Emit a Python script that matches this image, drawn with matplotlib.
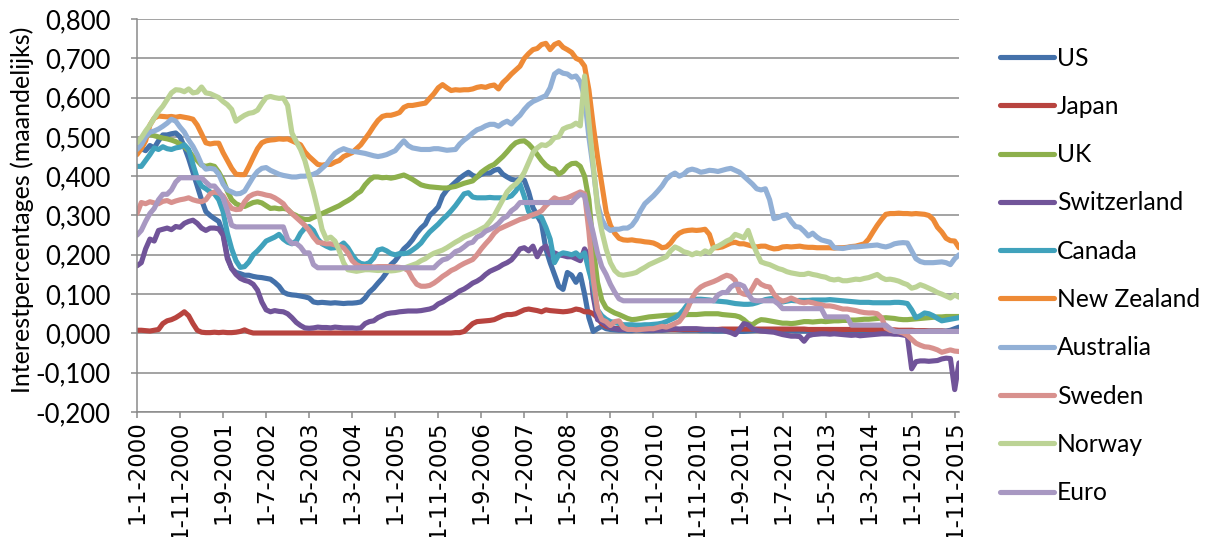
import matplotlib
matplotlib.use("Agg")
import matplotlib.pyplot as plt
from matplotlib.ticker import MultipleLocator, FuncFormatter
from matplotlib.lines import Line2D

# Monthly interest rates (annual rate / 12), January 2000 - December 2015
us = [
    0.475, 0.470, 0.465, 0.478, 0.472, 0.490, 0.505, 0.505, 0.508, 0.510,
    0.500, 0.475, 0.445, 0.410, 0.375, 0.340, 0.310, 0.300, 0.292, 0.285,
    0.255, 0.195, 0.165, 0.155, 0.152, 0.148, 0.148, 0.145, 0.143, 0.142,
    0.140, 0.138, 0.130, 0.120, 0.105, 0.100, 0.098, 0.097, 0.095, 0.093,
    0.090, 0.080, 0.078, 0.079, 0.078, 0.077, 0.078, 0.077, 0.076, 0.077,
    0.077, 0.078, 0.080, 0.090, 0.105, 0.115, 0.128, 0.140, 0.155, 0.175,
    0.185, 0.200, 0.215, 0.225, 0.238, 0.255, 0.268, 0.278, 0.300, 0.310,
    0.322, 0.350, 0.365, 0.375, 0.385, 0.395, 0.403, 0.410, 0.402, 0.398,
    0.405, 0.408, 0.408, 0.415, 0.418, 0.405, 0.398, 0.392, 0.390, 0.392,
    0.390, 0.360, 0.320, 0.300, 0.280, 0.215, 0.180, 0.150, 0.120, 0.112,
    0.155, 0.148, 0.130, 0.150, 0.100, 0.040, 0.005, 0.012, 0.018, 0.012,
    0.010, 0.009, 0.008, 0.008, 0.007, 0.007, 0.008, 0.008, 0.007, 0.007,
    0.007, 0.008, 0.008, 0.009, 0.010, 0.010, 0.009, 0.008, 0.008, 0.008,
    0.008, 0.007, 0.007, 0.007, 0.006, 0.006, 0.006, 0.006, 0.006, 0.005,
    0.005, 0.005, 0.006, 0.007, 0.008, 0.008, 0.008, 0.008, 0.008, 0.007,
    0.007, 0.007, 0.007, 0.006, 0.006, 0.006, 0.006, 0.006, 0.006, 0.006,
    0.006, 0.005, 0.005, 0.005, 0.005, 0.005, 0.005, 0.005, 0.005, 0.005,
    0.005, 0.005, 0.005, 0.005, 0.005, 0.005, 0.005, 0.005, 0.005, 0.005,
    0.005, 0.005, 0.006, 0.006, 0.006, 0.006, 0.006, 0.006, 0.006, 0.008,
    0.012, 0.016,
]

japan = [
    0.008, 0.008, 0.007, 0.006, 0.008, 0.010, 0.025, 0.032, 0.035, 0.040,
    0.047, 0.055, 0.045, 0.025, 0.008, 0.003, 0.002, 0.002, 0.003, 0.002,
    0.003, 0.002, 0.002, 0.003, 0.005, 0.009, 0.004, 0.001, 0.001, 0.001,
    0.001, 0.001, 0.001, 0.001, 0.001, 0.001, 0.001, 0.001, 0.001, 0.001,
    0.001, 0.001, 0.001, 0.001, 0.001, 0.001, 0.001, 0.001, 0.001, 0.001,
    0.001, 0.001, 0.001, 0.001, 0.001, 0.001, 0.001, 0.001, 0.001, 0.001,
    0.001, 0.001, 0.001, 0.001, 0.001, 0.001, 0.001, 0.001, 0.001, 0.001,
    0.001, 0.001, 0.001, 0.001, 0.002, 0.002, 0.005, 0.015, 0.025, 0.030,
    0.031, 0.032, 0.033, 0.035, 0.040, 0.045, 0.048, 0.048, 0.050, 0.055,
    0.060, 0.062, 0.060, 0.058, 0.055, 0.060, 0.058, 0.057, 0.056, 0.055,
    0.056, 0.058, 0.062, 0.060, 0.055, 0.055, 0.050, 0.040, 0.025, 0.018,
    0.015, 0.013, 0.012, 0.012, 0.011, 0.011, 0.011, 0.011, 0.010, 0.010,
    0.010, 0.010, 0.010, 0.010, 0.010, 0.010, 0.010, 0.010, 0.010, 0.010,
    0.010, 0.010, 0.010, 0.010, 0.010, 0.010, 0.011, 0.011, 0.011, 0.011,
    0.011, 0.011, 0.011, 0.011, 0.011, 0.011, 0.011, 0.011, 0.011, 0.011,
    0.011, 0.011, 0.011, 0.011, 0.011, 0.011, 0.010, 0.010, 0.010, 0.010,
    0.010, 0.010, 0.010, 0.010, 0.010, 0.010, 0.010, 0.010, 0.010, 0.010,
    0.010, 0.010, 0.010, 0.010, 0.009, 0.009, 0.009, 0.008, 0.008, 0.008,
    0.008, 0.007, 0.007, 0.007, 0.006, 0.006, 0.006, 0.006, 0.005, 0.005,
    0.005, 0.005,
]

uk = [
    0.490, 0.495, 0.500, 0.507, 0.503, 0.500, 0.497, 0.495, 0.492, 0.488,
    0.482, 0.475, 0.465, 0.450, 0.440, 0.428, 0.425, 0.428, 0.425, 0.410,
    0.390, 0.362, 0.340, 0.330, 0.325, 0.323, 0.328, 0.333, 0.335, 0.332,
    0.325, 0.318, 0.319, 0.317, 0.318, 0.316, 0.305, 0.300, 0.293, 0.290,
    0.290, 0.295, 0.300, 0.305, 0.310, 0.315, 0.320, 0.325, 0.332, 0.338,
    0.345, 0.355, 0.362, 0.378, 0.390, 0.398, 0.398, 0.396, 0.397, 0.395,
    0.397, 0.400, 0.403, 0.398, 0.392, 0.385, 0.378, 0.375, 0.373, 0.372,
    0.371, 0.370, 0.370, 0.372, 0.374, 0.378, 0.382, 0.385, 0.388, 0.398,
    0.410, 0.418, 0.425, 0.430, 0.440, 0.450, 0.462, 0.475, 0.485, 0.489,
    0.490, 0.482, 0.470, 0.455, 0.440, 0.428, 0.420, 0.418, 0.405, 0.412,
    0.425, 0.432, 0.433, 0.425, 0.400, 0.340, 0.220, 0.130, 0.085, 0.065,
    0.058, 0.052, 0.048, 0.043, 0.038, 0.035, 0.036, 0.038, 0.040, 0.042,
    0.043, 0.044, 0.045, 0.046, 0.046, 0.047, 0.047, 0.047, 0.048, 0.048,
    0.048, 0.049, 0.050, 0.050, 0.050, 0.050, 0.048, 0.047, 0.046, 0.045,
    0.042, 0.035, 0.025, 0.022, 0.030, 0.035, 0.034, 0.032, 0.030, 0.028,
    0.026, 0.026, 0.025, 0.026, 0.028, 0.030, 0.030, 0.029, 0.030, 0.031,
    0.030, 0.031, 0.032, 0.032, 0.033, 0.033, 0.034, 0.034, 0.035, 0.036,
    0.036, 0.037, 0.038, 0.039, 0.040, 0.039, 0.038, 0.036, 0.035, 0.035,
    0.036, 0.037, 0.038, 0.039, 0.040, 0.041, 0.042, 0.042, 0.043, 0.043,
    0.043, 0.043,
]

switzerland = [
    0.172, 0.180, 0.215, 0.240, 0.235, 0.262, 0.265, 0.268, 0.264, 0.272,
    0.270, 0.280, 0.285, 0.288, 0.280, 0.268, 0.262, 0.268, 0.268, 0.266,
    0.250, 0.190, 0.165, 0.150, 0.140, 0.135, 0.132, 0.125, 0.110, 0.080,
    0.060, 0.055, 0.058, 0.056, 0.055, 0.050, 0.040, 0.028, 0.020, 0.014,
    0.013, 0.014, 0.016, 0.015, 0.015, 0.014, 0.016, 0.015, 0.014, 0.014,
    0.014, 0.013, 0.014, 0.025, 0.030, 0.032, 0.040, 0.045, 0.050, 0.052,
    0.053, 0.055, 0.056, 0.057, 0.057, 0.057, 0.058, 0.060, 0.062, 0.066,
    0.075, 0.080, 0.087, 0.093, 0.100, 0.108, 0.113, 0.120, 0.128, 0.133,
    0.140, 0.150, 0.158, 0.163, 0.168, 0.175, 0.180, 0.187, 0.200, 0.215,
    0.218, 0.210, 0.222, 0.195, 0.215, 0.222, 0.200, 0.205, 0.200, 0.198,
    0.195, 0.195, 0.190, 0.185, 0.215, 0.195, 0.095, 0.035, 0.030, 0.022,
    0.015, 0.012, 0.010, 0.010, 0.010, 0.010, 0.010, 0.010, 0.009, 0.009,
    0.009, 0.009, 0.009, 0.010, 0.011, 0.012, 0.011, 0.012, 0.012, 0.012,
    0.012, 0.011, 0.010, 0.010, 0.010, 0.009, 0.009, 0.005, 0.002, -0.003,
    0.010, 0.025, 0.022, 0.012, 0.008, 0.006, 0.005, 0.004, 0.003, 0.000,
    -0.003, -0.005, -0.007, -0.007, -0.008, -0.020, -0.006, -0.003, -0.002, -0.001,
    -0.001, -0.002, -0.001, -0.002, -0.003, -0.004, -0.005, -0.004, -0.006, -0.005,
    -0.004, -0.003, -0.002, -0.001, -0.001, -0.001, -0.002, -0.002, -0.004, -0.006,
    -0.090, -0.072, -0.070, -0.070, -0.071, -0.070, -0.069, -0.065, -0.063, -0.064,
    -0.143, -0.075,
]

canada = [
    0.425, 0.425, 0.440, 0.455, 0.472, 0.468, 0.475, 0.470, 0.468, 0.472,
    0.474, 0.480, 0.468, 0.430, 0.395, 0.375, 0.368, 0.360, 0.355, 0.340,
    0.310, 0.255, 0.215, 0.185, 0.168, 0.170, 0.182, 0.200, 0.210, 0.222,
    0.235, 0.240, 0.245, 0.252, 0.240, 0.232, 0.228, 0.235, 0.255, 0.268,
    0.272, 0.262, 0.240, 0.228, 0.222, 0.217, 0.218, 0.222, 0.230, 0.218,
    0.200, 0.185, 0.178, 0.176, 0.180, 0.192, 0.212, 0.215, 0.210, 0.203,
    0.200, 0.203, 0.203, 0.205, 0.212, 0.220, 0.230, 0.245, 0.258, 0.268,
    0.278, 0.290, 0.300, 0.312, 0.325, 0.340, 0.355, 0.358, 0.347, 0.345,
    0.345, 0.345, 0.346, 0.345, 0.345, 0.345, 0.346, 0.350, 0.362, 0.380,
    0.348, 0.310, 0.298, 0.300, 0.295, 0.270, 0.240, 0.180, 0.200, 0.205,
    0.203, 0.200, 0.205, 0.195, 0.205, 0.160, 0.120, 0.060, 0.045, 0.036,
    0.030, 0.028, 0.025, 0.022, 0.022, 0.022, 0.021, 0.021, 0.022, 0.022,
    0.023, 0.024, 0.026, 0.030, 0.035, 0.040, 0.048, 0.060, 0.075, 0.084,
    0.087, 0.087, 0.086, 0.085, 0.083, 0.082, 0.081, 0.080, 0.078, 0.076,
    0.075, 0.074, 0.074, 0.075, 0.078, 0.082, 0.086, 0.088, 0.089, 0.085,
    0.080, 0.082, 0.084, 0.083, 0.084, 0.084, 0.084, 0.085, 0.085, 0.085,
    0.085, 0.086, 0.085, 0.084, 0.083, 0.082, 0.081, 0.080, 0.079, 0.079,
    0.079, 0.078, 0.078, 0.078, 0.078, 0.078, 0.079, 0.079, 0.078, 0.076,
    0.060, 0.040, 0.045, 0.052, 0.050, 0.045, 0.038, 0.032, 0.034, 0.036,
    0.038, 0.040,
]

new_zealand = [
    0.455, 0.470, 0.490, 0.530, 0.548, 0.553, 0.552, 0.551, 0.552, 0.550,
    0.552, 0.550, 0.548, 0.545, 0.530, 0.508, 0.485, 0.482, 0.484, 0.484,
    0.460, 0.440, 0.420, 0.405, 0.404, 0.404, 0.425, 0.448, 0.470, 0.485,
    0.490, 0.492, 0.493, 0.495, 0.494, 0.495, 0.490, 0.485, 0.480, 0.462,
    0.450, 0.440, 0.430, 0.428, 0.430, 0.430, 0.436, 0.440, 0.450, 0.455,
    0.460, 0.470, 0.480, 0.495, 0.510, 0.527, 0.542, 0.552, 0.555, 0.555,
    0.558, 0.562, 0.575, 0.580, 0.580, 0.582, 0.584, 0.586, 0.598, 0.610,
    0.625, 0.633, 0.625, 0.618, 0.620, 0.619, 0.620, 0.620, 0.622, 0.626,
    0.628, 0.626, 0.630, 0.632, 0.622, 0.638, 0.648, 0.660, 0.670, 0.680,
    0.700, 0.712, 0.722, 0.725, 0.735, 0.738, 0.722, 0.735, 0.740, 0.728,
    0.722, 0.715, 0.700, 0.695, 0.680, 0.620, 0.530, 0.450, 0.380, 0.310,
    0.275, 0.255, 0.242, 0.238, 0.237, 0.238, 0.236, 0.235, 0.233, 0.232,
    0.230, 0.225, 0.218, 0.220, 0.230, 0.245, 0.255, 0.260, 0.262, 0.263,
    0.262, 0.263, 0.265, 0.252, 0.218, 0.218, 0.220, 0.225, 0.230, 0.232,
    0.228, 0.228, 0.225, 0.222, 0.220, 0.222, 0.222, 0.218, 0.215, 0.216,
    0.220, 0.221, 0.220, 0.221, 0.222, 0.220, 0.219, 0.219, 0.218, 0.218,
    0.218, 0.218, 0.217, 0.218, 0.218, 0.219, 0.221, 0.222, 0.225, 0.228,
    0.240, 0.258, 0.275, 0.290, 0.303, 0.305, 0.305, 0.306, 0.305, 0.305,
    0.304, 0.305, 0.304, 0.303, 0.300, 0.290, 0.270, 0.258, 0.242, 0.236,
    0.235, 0.218,
]

australia = [
    0.468, 0.480, 0.500, 0.512, 0.515, 0.520, 0.527, 0.535, 0.545, 0.540,
    0.525, 0.512, 0.492, 0.476, 0.455, 0.430, 0.418, 0.420, 0.418, 0.405,
    0.380, 0.365, 0.360, 0.355, 0.356, 0.362, 0.380, 0.398, 0.412, 0.420,
    0.422, 0.415, 0.410, 0.405, 0.402, 0.400, 0.398, 0.398, 0.400, 0.400,
    0.402, 0.405, 0.410, 0.420, 0.430, 0.445, 0.458, 0.465, 0.470, 0.466,
    0.463, 0.462, 0.460, 0.458, 0.455, 0.452, 0.450, 0.452, 0.455, 0.460,
    0.465, 0.478, 0.490, 0.478, 0.472, 0.470, 0.468, 0.468, 0.468, 0.470,
    0.470, 0.468, 0.466, 0.467, 0.468, 0.482, 0.492, 0.500, 0.510, 0.518,
    0.522, 0.528, 0.532, 0.532, 0.527, 0.535, 0.540, 0.533, 0.545, 0.555,
    0.570, 0.582, 0.590, 0.595, 0.600, 0.605, 0.625, 0.660, 0.668, 0.662,
    0.660, 0.652, 0.655, 0.640, 0.600, 0.500, 0.420, 0.330, 0.290, 0.270,
    0.262, 0.265, 0.265, 0.268, 0.268, 0.275, 0.290, 0.312, 0.330, 0.340,
    0.350, 0.362, 0.375, 0.392, 0.402, 0.408, 0.400, 0.405, 0.415, 0.418,
    0.415, 0.410, 0.412, 0.415, 0.414, 0.412, 0.415, 0.418, 0.420, 0.415,
    0.410, 0.400, 0.390, 0.380, 0.368, 0.365, 0.368, 0.340, 0.292, 0.295,
    0.300, 0.302, 0.285, 0.272, 0.270, 0.260, 0.248, 0.255, 0.245, 0.238,
    0.235, 0.232, 0.218, 0.217, 0.216, 0.218, 0.220, 0.220, 0.221, 0.222,
    0.223, 0.224, 0.225, 0.222, 0.220, 0.223, 0.228, 0.230, 0.231, 0.230,
    0.210, 0.190, 0.183, 0.180, 0.180, 0.180, 0.181, 0.182, 0.180, 0.175,
    0.190, 0.200,
]

sweden = [
    0.305, 0.333, 0.330, 0.335, 0.332, 0.330, 0.336, 0.338, 0.333, 0.337,
    0.340, 0.342, 0.345, 0.340, 0.337, 0.335, 0.340, 0.355, 0.360, 0.357,
    0.350, 0.332, 0.318, 0.315, 0.316, 0.335, 0.348, 0.354, 0.357, 0.355,
    0.352, 0.350, 0.345, 0.338, 0.330, 0.315, 0.305, 0.295, 0.285, 0.275,
    0.262, 0.245, 0.232, 0.230, 0.228, 0.228, 0.225, 0.222, 0.218, 0.205,
    0.185, 0.175, 0.170, 0.170, 0.170, 0.169, 0.170, 0.170, 0.170, 0.170,
    0.169, 0.168, 0.166, 0.160, 0.140, 0.125, 0.120, 0.120, 0.122, 0.128,
    0.136, 0.145, 0.152, 0.160, 0.165, 0.172, 0.178, 0.183, 0.188, 0.200,
    0.215, 0.228, 0.240, 0.255, 0.265, 0.270, 0.275, 0.280, 0.285, 0.290,
    0.293, 0.298, 0.302, 0.306, 0.312, 0.325, 0.335, 0.345, 0.340, 0.342,
    0.345, 0.350, 0.355, 0.360, 0.355, 0.260, 0.140, 0.060, 0.035, 0.030,
    0.020, 0.030, 0.032, 0.015, 0.010, 0.010, 0.009, 0.010, 0.011, 0.012,
    0.012, 0.015, 0.018, 0.016, 0.020, 0.025, 0.030, 0.045, 0.065, 0.090,
    0.108, 0.118, 0.124, 0.128, 0.132, 0.137, 0.143, 0.148, 0.145, 0.135,
    0.105, 0.100, 0.098, 0.115, 0.135, 0.125, 0.120, 0.118, 0.100, 0.088,
    0.082, 0.085, 0.090, 0.085, 0.080, 0.078, 0.080, 0.078, 0.075, 0.073,
    0.070, 0.070, 0.068, 0.065, 0.062, 0.062, 0.060, 0.058, 0.055, 0.053,
    0.052, 0.052, 0.050, 0.040, 0.014, 0.008, 0.006, 0.004, 0.001, -0.005,
    -0.015, -0.025, -0.030, -0.034, -0.035, -0.038, -0.042, -0.048, -0.045, -0.042,
    -0.045, -0.046,
]

norway = [
    0.485, 0.498, 0.515, 0.530, 0.548, 0.565, 0.578, 0.595, 0.612, 0.620,
    0.619, 0.615, 0.622, 0.612, 0.614, 0.627, 0.612, 0.610, 0.605, 0.600,
    0.590, 0.582, 0.570, 0.540, 0.548, 0.555, 0.560, 0.562, 0.568, 0.585,
    0.600, 0.603, 0.600, 0.598, 0.599, 0.580, 0.510, 0.488, 0.468, 0.440,
    0.400, 0.360, 0.315, 0.265, 0.240, 0.245, 0.235, 0.210, 0.180, 0.162,
    0.160, 0.158, 0.160, 0.162, 0.162, 0.161, 0.160, 0.161, 0.160, 0.159,
    0.160, 0.162, 0.166, 0.170, 0.174, 0.178, 0.185, 0.190, 0.198, 0.204,
    0.208, 0.212, 0.218, 0.225, 0.232, 0.238, 0.245, 0.250, 0.255, 0.260,
    0.266, 0.272, 0.285, 0.300, 0.320, 0.340, 0.360, 0.372, 0.380, 0.392,
    0.410, 0.435, 0.460, 0.472, 0.480, 0.478, 0.485, 0.498, 0.500, 0.520,
    0.525, 0.528, 0.535, 0.528, 0.655, 0.540, 0.430, 0.320, 0.260, 0.215,
    0.180, 0.160, 0.150, 0.148, 0.150, 0.152, 0.155, 0.162, 0.168, 0.175,
    0.180, 0.185, 0.190, 0.195, 0.210, 0.220, 0.215, 0.208, 0.205, 0.200,
    0.205, 0.202, 0.210, 0.205, 0.218, 0.222, 0.228, 0.235, 0.240, 0.252,
    0.248, 0.243, 0.262, 0.230, 0.205, 0.182, 0.178, 0.175, 0.170, 0.165,
    0.162, 0.157, 0.154, 0.152, 0.150, 0.150, 0.153, 0.150, 0.148, 0.145,
    0.143, 0.138, 0.136, 0.138, 0.134, 0.134, 0.136, 0.138, 0.137, 0.140,
    0.142, 0.146, 0.150, 0.142, 0.137, 0.138, 0.136, 0.133, 0.128, 0.124,
    0.115, 0.118, 0.124, 0.120, 0.115, 0.110, 0.104, 0.100, 0.095, 0.090,
    0.098, 0.092,
]

euro = [
    0.250, 0.262, 0.285, 0.305, 0.318, 0.340, 0.354, 0.354, 0.365, 0.385,
    0.396, 0.396, 0.396, 0.396, 0.396, 0.396, 0.385, 0.375, 0.375, 0.362,
    0.345, 0.312, 0.275, 0.271, 0.271, 0.271, 0.271, 0.271, 0.271, 0.271,
    0.271, 0.271, 0.271, 0.271, 0.271, 0.240, 0.229, 0.229, 0.220, 0.205,
    0.205, 0.175, 0.167, 0.167, 0.167, 0.167, 0.167, 0.167, 0.167, 0.167,
    0.167, 0.167, 0.167, 0.167, 0.167, 0.167, 0.167, 0.167, 0.167, 0.167,
    0.167, 0.167, 0.167, 0.167, 0.167, 0.167, 0.167, 0.167, 0.167, 0.167,
    0.178, 0.187, 0.190, 0.198, 0.208, 0.212, 0.220, 0.229, 0.232, 0.245,
    0.250, 0.260, 0.265, 0.271, 0.280, 0.292, 0.298, 0.312, 0.320, 0.333,
    0.333, 0.333, 0.333, 0.333, 0.333, 0.333, 0.333, 0.333, 0.333, 0.333,
    0.333, 0.333, 0.345, 0.354, 0.350, 0.300, 0.255, 0.205, 0.170, 0.150,
    0.125, 0.105, 0.088, 0.083, 0.083, 0.083, 0.083, 0.083, 0.083, 0.083,
    0.083, 0.083, 0.083, 0.083, 0.083, 0.083, 0.083, 0.083, 0.083, 0.083,
    0.083, 0.083, 0.083, 0.083, 0.083, 0.098, 0.104, 0.104, 0.118, 0.125,
    0.125, 0.120, 0.100, 0.085, 0.083, 0.083, 0.083, 0.083, 0.083, 0.075,
    0.063, 0.063, 0.063, 0.063, 0.063, 0.063, 0.063, 0.063, 0.063, 0.063,
    0.042, 0.042, 0.042, 0.042, 0.042, 0.042, 0.021, 0.021, 0.021, 0.021,
    0.021, 0.021, 0.021, 0.021, 0.021, 0.012, 0.005, 0.005, 0.005, 0.005,
    0.005, 0.005, 0.005, 0.005, 0.005, 0.005, 0.005, 0.005, 0.005, 0.005,
    0.005, 0.005,
]

series_names = ["US", "Japan", "UK", "Switzerland", "Canada",
                "New Zealand", "Australia", "Sweden", "Norway", "Euro"]
series_values = [us, japan, uk, switzerland, canada,
                 new_zealand, australia, sweden, norway, euro]
series_colors = ["#4471AA", "#B8443F", "#8DB04C", "#715499", "#40A2BC",
                 "#EE8A36", "#92B0D6", "#D8918E", "#BCD395", "#A898C2"]

tick_labels = ["1-1-2000", "1-11-2000", "1-9-2001", "1-7-2002", "1-5-2003",
               "1-3-2004", "1-1-2005", "1-11-2005", "1-9-2006", "1-7-2007",
               "1-5-2008", "1-3-2009", "1-1-2010", "1-11-2010", "1-9-2011",
               "1-7-2012", "1-5-2013", "1-3-2014", "1-1-2015", "1-11-2015"]
tick_step = 10

W, H = 1210, 537
fig = plt.figure(figsize=(W / 100, H / 100), dpi=100)
ax = fig.add_axes([137 / W, 1 - 412 / H, (959 - 137) / W, (412 - 19) / H])

grid_color = "#8A8A8A"
lw = 3.7
for name, vals, col in zip(series_names, series_values, series_colors):
    ax.plot(range(len(vals)), vals, color=col, lw=lw, label=name,
            solid_joinstyle="round", solid_capstyle="round")

n = len(us)
ax.set_xlim(0, n - 1)
ax.set_ylim(-0.2, 0.8)
ax.yaxis.set_major_locator(MultipleLocator(0.1))
ax.yaxis.set_major_formatter(FuncFormatter(lambda v, p: f"{v:.3f}".replace(".", ",")))
ax.set_xticks(range(0, tick_step * len(tick_labels), tick_step))
ax.set_xticklabels(tick_labels, rotation=90, fontfamily="DejaVu Sans", fontsize=16.5)

ax.grid(axis="y", color=grid_color, lw=1.1)
ax.set_axisbelow(True)
for s in ["top", "right"]:
    ax.spines[s].set_visible(False)
for s in ["left", "bottom"]:
    ax.spines[s].set_color(grid_color)
    ax.spines[s].set_linewidth(1.1)
ax.tick_params(axis="both", direction="out", length=4, width=1.1, color=grid_color,
               labelcolor="black")
ax.tick_params(axis="x", pad=2)
ax.tick_params(axis="y", pad=15)
for t in ax.get_yticklabels():
    t.set_fontfamily("Lato")
    t.set_fontsize(18.5)

fig.text(22 / W, 1 - 210 / H, "Interestpercentages (maandelijks)", rotation=90,
         ha="center", va="center", fontfamily="Lato", fontsize=18)

handles = [Line2D([], [], color=c, lw=lw, solid_capstyle="round") for c in series_colors]
fig.legend(handles, series_names, loc="upper left",
           bbox_to_anchor=(1000 / W, 1 - 46.5 / H), frameon=False,
           prop={"family": "Lato", "size": 17.7}, handlelength=2.2,
           handletextpad=0.12, labelspacing=1.03, borderpad=0, borderaxespad=0)

fig.savefig("out.png", dpi=100)
